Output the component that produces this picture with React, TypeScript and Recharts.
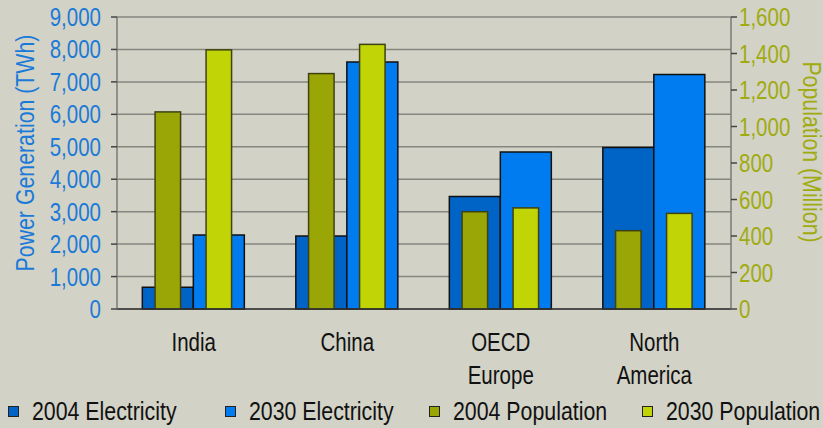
import { BarChart, Bar, XAxis, YAxis, CartesianGrid, Legend } from 'recharts';

const REGIONS = ['India', 'China', 'OECD Europe', 'North America'];
const ELEC_2004 = [670, 2250, 3470, 4980];
const ELEC_2030 = [2280, 7610, 4840, 7230];
const POP_2004 = [1080, 1290, 533, 429];
const POP_2030 = [1420, 1450, 554, 524];

const LEFT_TICKS = [0, 1000, 2000, 3000, 4000, 5000, 6000, 7000, 8000, 9000];
const RIGHT_TICKS = [0, 200, 400, 600, 800, 1000, 1200, 1400, 1600];

const SERIES = [
  { key: 'e2004', name: '2004 Electricity', color: '#0063c6' },
  { key: 'e2030', name: '2030 Electricity', color: '#007cf0' },
  { key: 'p2004', name: '2004 Population', color: '#99a605' },
  { key: 'p2030', name: '2030 Population', color: '#c1d406' },
];

const data = REGIONS.map((name, i) => ({
  name,
  e2004: ELEC_2004[i],
  e2030: ELEC_2030[i],
  p2004: POP_2004[i],
  p2030: POP_2030[i],
}));

// no Arial Narrow here, so squeeze Liberation Sans (Arial metrics) horizontally
const FONT = "'Liberation Sans', Arial, sans-serif";
const SQUEEZE = 0.82;
const BLUE = '#1a7ad8';
const OLIVE = '#a0ab10';
const fmt = (v: number) => v.toLocaleString('en-US');

const NarrowText = ({ x, y, anchor, fill, size = 25, rotate = 0, children }: any) => (
  <text transform={`translate(${x} ${y}) rotate(${rotate}) scale(${SQUEEZE} 1)`} textAnchor={anchor}
    fill={fill} fontSize={size} fontFamily={FONT}>
    {children}
  </text>
);

// population bars sit centred inside the electricity bars, half as wide
const NarrowBar = (props: any) => {
  const { x, y, width, height, fill } = props;
  return <rect x={x + width / 4} y={y} width={width / 2} height={height} fill={fill} stroke="#3e4210" strokeWidth={1.5} />;
};

const RegionTick = ({ x, y, payload }: any) => {
  const lines = String(payload.value).split(' ');
  return (
    <g>
      {lines.map((l, i) => (
        <NarrowText key={i} x={x} y={y + 42 + i * 33} anchor="middle" fill="#111">{l}</NarrowText>
      ))}
    </g>
  );
};

const LeftTick = ({ x, y, payload }: any) => (
  <NarrowText x={x} y={y + 9} anchor="end" fill={BLUE}>{fmt(payload.value)}</NarrowText>
);

const RightTick = ({ x, y, payload }: any) => (
  <NarrowText x={x} y={y + 9} anchor="start" fill={OLIVE}>{fmt(payload.value)}</NarrowText>
);

const LeftTitle = () => (
  <NarrowText x={34} y={153} rotate={-90} anchor="middle" fill={BLUE} size={26}>Power Generation (TWh)</NarrowText>
);

const RightTitle = () => (
  <NarrowText x={803} y={152} rotate={90} anchor="middle" fill={OLIVE} size={26}>Population (Million)</NarrowText>
);

const LEGEND_LEFT = [8, 225, 429, 642];

const LegendRow = () => (
  <div style={{ position: 'relative', height: 26, fontFamily: FONT, fontSize: 26, color: '#111' }}>
    {SERIES.map((s, i) => (
      <div key={s.key} style={{ position: 'absolute', left: LEGEND_LEFT[i], top: 0, height: 26, display: 'flex', alignItems: 'center', whiteSpace: 'nowrap' }}>
        <span style={{ width: 9, height: 9, background: s.color, border: '1px solid #222', marginRight: 13, flex: 'none' }} />
        <span style={{ display: 'inline-block', transform: `scaleX(${SQUEEZE})`, transformOrigin: 'left center', lineHeight: '26px' }}>{s.name}</span>
      </div>
    ))}
  </div>
);

export default function App() {
  return (
    <div style={{ position: 'absolute', left: 0, top: 0, width: 823, height: 428, background: '#d2d2c6', overflow: 'hidden' }}>
      <BarChart width={823} height={428} data={data} margin={{ top: 17, right: 0, bottom: 4, left: 0 }}
        barGap={0} barCategoryGap="16.5%">
        <CartesianGrid vertical={false} stroke="#868680" strokeWidth={1.5} yAxisId="left" />
        <XAxis dataKey="name" height={89} tickSize={0} tickMargin={0} tick={<RegionTick />}
          axisLine={{ stroke: '#333', strokeWidth: 1.5 }} />
        <XAxis xAxisId="pop" dataKey="name" hide />
        <YAxis yAxisId="left" width={117} domain={[0, 9000]} ticks={LEFT_TICKS}
          tickSize={6} tickMargin={10} interval={0} tick={<LeftTick />}
          axisLine={{ stroke: '#7a7a78', strokeWidth: 1.5 }} tickLine={{ stroke: '#444', strokeWidth: 1.5 }}
          label={<LeftTitle />} />
        <YAxis yAxisId="right" orientation="right" width={92} domain={[0, 1600]} ticks={RIGHT_TICKS}
          tickSize={6} tickMargin={2} interval={0} tick={<RightTick />}
          axisLine={{ stroke: '#7a7a78', strokeWidth: 1.5 }} tickLine={{ stroke: '#444', strokeWidth: 1.5 }}
          label={<RightTitle />} />
        <Legend verticalAlign="bottom" content={<LegendRow />} />
        <Bar yAxisId="left" dataKey="e2004" name="2004 Electricity" fill={SERIES[0].color} stroke="#111" strokeWidth={1.5} isAnimationActive={false} />
        <Bar yAxisId="left" dataKey="e2030" name="2030 Electricity" fill={SERIES[1].color} stroke="#111" strokeWidth={1.5} isAnimationActive={false} />
        <Bar xAxisId="pop" yAxisId="right" dataKey="p2004" name="2004 Population" fill={SERIES[2].color} shape={<NarrowBar />} isAnimationActive={false} />
        <Bar xAxisId="pop" yAxisId="right" dataKey="p2030" name="2030 Population" fill={SERIES[3].color} shape={<NarrowBar />} isAnimationActive={false} />
      </BarChart>
    </div>
  );
}
